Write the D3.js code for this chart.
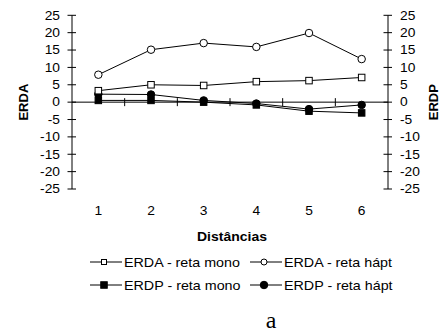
<!DOCTYPE html>
<html>
<head>
<meta charset="utf-8">
<script src="https://cdn.jsdelivr.net/npm/d3@7"></script>
<style>
  body { margin: 0; background: #fff; }
  text { font-family: "Liberation Sans", Arial, sans-serif; fill: #000; }
</style>
</head>
<body>
<div id="chart"></div>
<script>
// chart data
const distancias = ['1', '2', '3', '4', '5', '6'];
const erdaMono = [3.3, 5.0, 4.8, 5.9, 6.2, 7.1];
const erdaHapt = [7.9, 15.1, 17.0, 15.9, 19.9, 12.4];
const erdpMono = [0.5, 0.5, 0.0, -0.8, -2.6, -3.1];
const erdpHapt = [2.3, 2.2, 0.5, -0.4, -2.0, -0.8];
const yTicks = [25, 20, 15, 10, 5, 0, -5, -10, -15, -20, -25];

const series = [
    { name: 'ERDA - reta mono', values: erdaMono, shape: 'square', fill: '#fff' },
    { name: 'ERDA - reta hápt', values: erdaHapt, shape: 'circle', fill: '#fff' },
    { name: 'ERDP - reta mono', values: erdpMono, shape: 'square', fill: '#000' },
    { name: 'ERDP - reta hápt', values: erdpHapt, shape: 'circle', fill: '#000' }
];

const width = 440, height = 333;
const plotLeft = 72, plotRight = 388, plotTop = 15.3, plotBottom = 189;

const svg = d3.select('#chart').append('svg')
    .attr('width', width)
    .attr('height', height);

const x = d3.scaleBand().domain(distancias).range([plotLeft, plotRight]);
const y = d3.scaleLinear().domain([-25, 25]).range([plotBottom, plotTop]);

// text that is a bit wider than the font, like the original picture
function label(g, tx, ty, str, size, sx, anchor) {
    return g.append('text')
        .attr('transform', `translate(${tx},${ty}) scale(${sx},1)`)
        .style('font-size', size + 'px')
        .style('text-anchor', anchor || 'start')
        .text(str);
}

// vertical axes with crossing ticks
function vAxis(xPos, labelSide) {
    const g = svg.append('g');
    g.append('line')
        .attr('x1', xPos).attr('x2', xPos)
        .attr('y1', y(25)).attr('y2', y(-25))
        .style('stroke', '#000');
    g.selectAll('line.tick').data(yTicks).join('line')
        .attr('class', 'tick')
        .attr('x1', xPos - 4.5).attr('x2', xPos + 4)
        .attr('y1', d => y(d)).attr('y2', d => y(d))
        .style('stroke', '#000');
    yTicks.forEach(d => {
        label(g, labelSide < 0 ? xPos - 12 : xPos + 12, y(d) + 4.3, d, 12, 1.15,
            labelSide < 0 ? 'end' : 'start');
    });
}
vAxis(plotLeft, -1);
vAxis(plotRight, 1);

// horizontal axis at zero with ticks at category boundaries
svg.append('line')
    .attr('x1', plotLeft).attr('x2', plotRight)
    .attr('y1', y(0)).attr('y2', y(0))
    .style('stroke', '#000');
svg.append('g').selectAll('line')
    .data(distancias.slice(1))
    .join('line')
    .attr('x1', d => x(d)).attr('x2', d => x(d))
    .attr('y1', y(0) - 4).attr('y2', y(0) + 4)
    .style('stroke', '#000');
const xg = svg.append('g');
distancias.forEach(d => {
    label(xg, x(d) + x.bandwidth() / 2, 215, d, 12, 1.15, 'middle');
});

// axis titles
svg.append('text')
    .attr('transform', `translate(28,${y(0)}) rotate(-90)`)
    .style('text-anchor', 'middle')
    .style('font-size', '13px')
    .style('font-weight', 'bold')
    .text('ERDA');
svg.append('text')
    .attr('transform', `translate(437.5,${y(0)}) rotate(-90)`)
    .style('text-anchor', 'middle')
    .style('font-size', '13px')
    .style('font-weight', 'bold')
    .text('ERDP');
label(svg, 232, 241, 'Distâncias', 12.5, 1.12, 'middle')
    .style('font-weight', 'bold');

function marker(g, shape, fill, cx, cy, size) {
    if (shape === 'square') {
        g.append('rect')
            .attr('x', cx - size / 2).attr('y', cy - size / 2)
            .attr('width', size).attr('height', size)
            .style('fill', fill).style('stroke', '#000');
    } else {
        g.append('circle')
            .attr('cx', cx).attr('cy', cy).attr('r', size / 2 + 0.5)
            .style('fill', fill).style('stroke', '#000');
    }
}

const line = d3.line()
    .x((d, i) => x(distancias[i]) + x.bandwidth() / 2)
    .y(d => y(d));

// draw filled series first, open ones on top
[2, 3, 0, 1].forEach(k => {
    const s = series[k];
    const g = svg.append('g');
    g.append('path')
        .attr('d', line(s.values))
        .style('fill', 'none')
        .style('stroke', '#000');
    s.values.forEach((v, i) => {
        marker(g, s.shape, s.fill, x(distancias[i]) + x.bandwidth() / 2, y(v), 6.5);
    });
});

// legend
const legendPos = [[90, 262], [250, 262], [90, 285], [250, 285]];
series.forEach((s, k) => {
    const [lx, ly] = legendPos[k];
    const g = svg.append('g');
    g.append('line')
        .attr('x1', lx).attr('x2', lx + 32)
        .attr('y1', ly).attr('y2', ly)
        .style('stroke', '#000');
    marker(g, s.shape, s.fill, lx + 14, ly, s.fill === '#000' ? 6.5 : 5);
    label(g, lx + 34, ly + 4.7, s.name, 13, 1.1, 'start');
});

svg.append('text')
    .attr('x', 271).attr('y', 328)
    .style('text-anchor', 'middle')
    .style('font-family', '"Liberation Serif", serif')
    .style('font-size', '24px')
    .text('a');
</script>
</body>
</html>
